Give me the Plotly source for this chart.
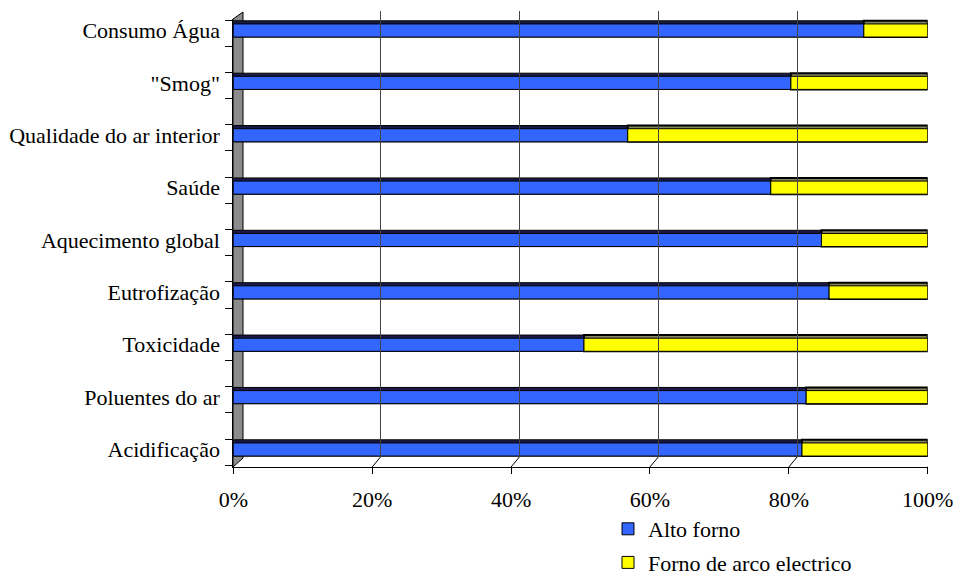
import plotly.graph_objects as go

categories = ["Acidificação", "Poluentes do ar", "Toxicidade", "Eutrofização",
              "Aquecimento global", "Saúde", "Qualidade do ar interior",
              "\"Smog\"", "Consumo Água"]
alto_forno = [81.9, 82.5, 50.5, 85.8, 84.7, 77.4, 56.8, 80.3, 90.8]
forno_arco = [100 - v for v in alto_forno]
tick_vals = [0, 20, 40, 60, 80, 100]
tick_text = ["0%", "20%", "40%", "60%", "80%", "100%"]

W, H = 953, 577
def px(x):
    return x / W
def py(y):
    return 1 - y / H

FONT = "Liberation Serif"
FS = 22
BLUE = "#3366FF"
YELLOW = "#FFFF00"
BLUE_TOP = "#1a1a48"
YELLOW_TOP = "#85855f"

idx = list(range(len(categories)))
face_w = 0.25
top_w = 0.31

fig = go.Figure()
# top faces (3D effect)
fig.add_trace(go.Bar(y=idx, x=alto_forno, base=[0] * len(idx), orientation="h",
                     width=top_w, offset=-face_w / 2, marker=dict(color=BLUE_TOP, line=dict(color="black", width=1)),
                     showlegend=False, hoverinfo="skip"))
fig.add_trace(go.Bar(y=idx, x=forno_arco, base=alto_forno, orientation="h",
                     width=top_w, offset=-face_w / 2, marker=dict(color=YELLOW_TOP, line=dict(color="black", width=2)),
                     showlegend=False, hoverinfo="skip"))
# front faces
fig.add_trace(go.Bar(y=idx, x=alto_forno, base=[0] * len(idx), orientation="h", name="Alto forno",
                     width=face_w, offset=-face_w / 2, legendgroup="a",
                     marker=dict(color=BLUE, line=dict(color="black", width=1))))
fig.add_trace(go.Bar(y=idx, x=forno_arco, base=alto_forno, orientation="h", name="Forno de arco electrico",
                     width=face_w, offset=-face_w / 2, legendgroup="b",
                     marker=dict(color=YELLOW, line=dict(color="black", width=1))))
# empty trace for back-wall gridline subplot
fig.add_trace(go.Scatter(x=[None], y=[None], xaxis="x2", yaxis="y2", showlegend=False, hoverinfo="skip"))

y_bottom_px, y_top_px = 467, 19
c0, c8 = 449.5, 30.5
ppu = (c0 - c8) / 8
y_range = [-(y_bottom_px - c0) / ppu, 8 + (c8 - y_top_px) / ppu]

x0_px, x1_px = 233.3, 927.7
unit = (x1_px - x0_px) / 100.0
back_dx = 8.3 / unit

shapes = [
    dict(type="path", xref="paper", yref="paper", layer="below",
         path=f"M {px(233)},{py(19)} L {px(243)},{py(12)} L {px(243)},{py(458)} L {px(233)},{py(467)} Z",
         fillcolor="#8c8c8c", line=dict(color="black", width=1)),
]
# floor slant lines from front tick to back gridline
for v in tick_vals[1:]:
    shapes.append(dict(type="line", xref="x", yref="paper", x0=v, x1=v + back_dx,
                       y0=py(467), y1=py(457), line=dict(color="black", width=1)))

fig.update_layout(
    width=W, height=H,
    margin=dict(l=0, r=0, t=0, b=0, autoexpand=False),
    paper_bgcolor="white", plot_bgcolor="rgba(0,0,0,0)",
    barmode="overlay",
    font=dict(family=FONT, size=FS, color="black"),
    xaxis=dict(domain=[px(x0_px), px(x1_px)], range=[0, 100], anchor="y", automargin=False,
               tickvals=tick_vals, ticktext=tick_text, ticks="outside", ticklen=6,
               tickcolor="black", showline=True, linecolor="black", linewidth=1,
               showgrid=False, zeroline=False, tickfont=dict(family=FONT, size=FS),
               ticklabelstandoff=7, ticklabeloverflow="allow"),
    yaxis=dict(domain=[py(y_bottom_px), py(y_top_px)], range=y_range, anchor="x", automargin=False,
               tickvals=idx, ticktext=categories, ticks="", showline=True,
               linecolor="black", linewidth=1, showgrid=False, zeroline=False,
               tickfont=dict(family=FONT, size=FS), ticklabelstandoff=8,
               ticklabeloverflow="allow",
               minor=dict(ticks="outside", ticklen=7, tickcolor="black",
                          tick0=0.2, dtick=0.5, showgrid=False)),
    xaxis2=dict(domain=[px(241.6), px(936)], range=[0, 100], anchor="y2", automargin=False,
                tickvals=tick_vals[1:], showticklabels=False, ticks="",
                showgrid=True, gridcolor="#444444", gridwidth=1,
                showline=False, zeroline=False),
    yaxis2=dict(domain=[py(457), py(11)], range=[0, 1], anchor="x2", automargin=False,
                visible=False, showgrid=False),
    legend=dict(x=px(608), y=py(508), xanchor="left", yanchor="top",
                font=dict(family=FONT, size=FS), tracegroupgap=2,
                bgcolor="rgba(0,0,0,0)"),
    shapes=shapes,
)

fig.write_html("out.html")
